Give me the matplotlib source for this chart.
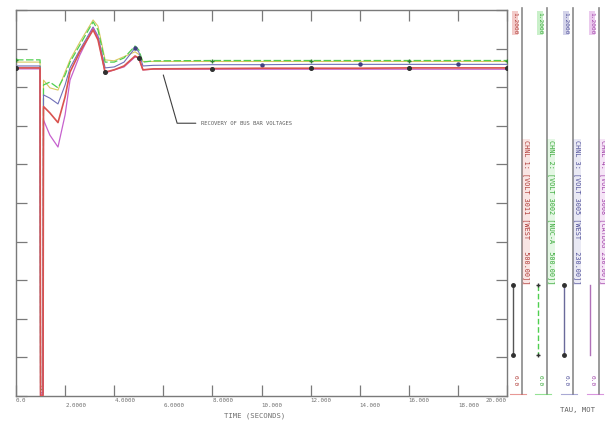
import matplotlib
matplotlib.use("Agg")
import matplotlib.pyplot as plt
from matplotlib.lines import Line2D

# ---------------- data ----------------
time_s = [0.0, 0.98, 1.0, 1.1, 1.12, 1.38, 1.71, 2.0, 2.2, 2.6, 3.14, 3.34, 3.63,
          4.0, 4.4, 4.85, 5.0, 5.17, 5.6, 8.0, 10.0, 12.0, 14.0, 16.0, 18.0, 20.0]

volt_ch1 = [1.020, 1.020, 0.000, 0.000, 0.900, 0.880, 0.850, 0.930, 1.007, 1.070, 1.138,
            1.107, 1.007, 1.014, 1.026, 1.057, 1.051, 1.014, 1.017, 1.018, 1.019, 1.019,
            1.019, 1.020, 1.020, 1.020]
volt_ch2 = [1.045, 1.045, 0.020, 0.020, 0.967, 0.976, 0.958, 0.998, 1.038, 1.091, 1.163,
            1.138, 1.038, 1.038, 1.051, 1.088, 1.076, 1.038, 1.042, 1.043, 1.043, 1.043,
            1.043, 1.043, 1.043, 1.043]
volt_ch3 = [1.026, 1.026, 0.010, 0.010, 0.936, 0.926, 0.908, 0.967, 1.020, 1.076, 1.147,
            1.119, 1.020, 1.023, 1.038, 1.082, 1.070, 1.026, 1.028, 1.030, 1.030, 1.031,
            1.031, 1.031, 1.031, 1.031]
volt_ch4 = [1.017, 1.017, 0.005, 0.005, 0.858, 0.811, 0.774, 0.874, 0.982, 1.060, 1.144,
            1.113, 1.004, 1.014, 1.023, 1.054, 1.051, 1.014, 1.016, 1.016, 1.016, 1.016,
            1.016, 1.016, 1.016, 1.016]
volt_ch5 = [1.038, 1.038, 0.030, 0.030, 0.982, 0.958, 0.951, 1.007, 1.045, 1.100, 1.169,
            1.150, 1.045, 1.042, 1.055, 1.070, 1.062, 1.040, 1.040, 1.040, 1.040, 1.040,
            1.040, 1.040, 1.040, 1.040]

channel_names = ["CHNL 1: [VOLT 3011 [WEST   500.00]]",
                 "CHNL 2: [VOLT 3002 [NUC-A  500.00]]",
                 "CHNL 3: [VOLT 3005 [WEST   230.00]]",
                 "CHNL 4: [VOLT 3008 [CATDOG 230.00]]"]
scale_max = ["1.2000", "1.2000", "1.2000", "1.2000"]
scale_min = ["0.0", "0.0", "0.0", "0.0"]

x_ticks = [0, 2, 4, 6, 8, 10, 12, 14, 16, 18, 20]
x_tick_labels = ["0.0", "2.0000", "4.0000", "6.0000", "8.0000", "10.000",
                 "12.000", "14.000", "16.000", "18.000", "20.000"]
y_min, y_max = 0.0, 1.2

annotation_text = "RECOVERY OF BUS BAR VOLTAGES"
x_title = "TIME (SECONDS)"
corner_text = "TAU, MOT"

# ---------------- styling ----------------
W, H = 605, 422
fig = plt.figure(figsize=(W / 100, H / 100), dpi=100)
fig.patch.set_facecolor("white")
mono = "DejaVu Sans Mono"
axis_gray = "#7a7a7a"

ax_l, ax_r, ax_t, ax_b = 16, 507, 10, 396
ax = fig.add_axes([ax_l / W, 1 - ax_b / H, (ax_r - ax_l) / W, (ax_b - ax_t) / H])
ax.set_xlim(0, 20)
ax.set_ylim(y_min, y_max)
for s in ax.spines.values():
    s.set_color(axis_gray)
    s.set_linewidth(1.0)

col_colors = ["#d9534f", "#4fcf4f", "#7070b8", "#c050c8"]
extra_color = "#d8c860"

ax.plot(time_s, volt_ch5, color=extra_color, lw=0.8, zorder=2)
ax.plot(time_s, volt_ch2, color=col_colors[1], lw=0.9, ls=(0, (6, 2)), zorder=3,
        marker="+", markersize=3, markevery=[0, 19, 21, 23, 25], mec="#308030")
ax.plot(time_s, volt_ch3, color=col_colors[2], lw=0.8, zorder=3,
        marker="o", markersize=2.2, markevery=[15, 20, 22, 24], mec="#404080", mfc="#404080")
ax.plot(time_s, volt_ch4, color=col_colors[3], lw=0.9, zorder=4, alpha=0.9)
ax.plot(time_s, volt_ch1, color=col_colors[0], lw=1.2, zorder=5,
        marker="o", markersize=2.6, markevery=[0, 12, 16, 19, 21, 23, 25], mec="#303030",
        mfc="#303030")

ax.set_xticks(x_ticks)
lbls = [lab if i % 2 == 0 else "\n" + lab for i, lab in enumerate(x_tick_labels)]
ax.set_xticklabels(lbls, fontsize=4.2, family=mono, color="#707070", linespacing=1.1)
for i, t in enumerate(ax.get_xticklabels()):
    t.set_horizontalalignment("right" if i == len(x_tick_labels) - 1 else "left")
ax.set_yticks([y_min + k * (y_max - y_min) / 10 for k in range(11)])
ax.set_yticklabels([])
ax.tick_params(axis="both", direction="in", length=8, width=0.9, color=axis_gray,
               top=True, right=True, pad=1.5)

ax.annotate(annotation_text, xy=(6.0, 0.998), xytext=(7.55, 0.848),
            fontsize=4.0, family=mono, color="#606060", ha="left", va="center",
            arrowprops=dict(arrowstyle="-", color="#404040", lw=0.8, relpos=(0, 0.5),
                            shrinkA=2, shrinkB=0,
                            connectionstyle="angle,angleA=0,angleB=106,rad=0"))

fig.text(255 / W, 1 - 416 / H, x_title, ha="center", va="center", fontsize=5.2,
         family=mono, color="#707070")
fig.text(578 / W, 1 - 410 / H, corner_text, ha="center", va="center", fontsize=5.2,
         family=mono, color="#606060")

# ---------------- right-hand channel strips ----------------
col_x = [522, 547, 573, 599]
markers = ["o", "+", "o", ""]
dashes = ["-", (0, (4, 2)), "-", "-"]
sample_colors = ["#555555", "#4fcf4f", "#6a6a9a", "#b070b8"]
text_colors = ["#b03a36", "#38a838", "#50509a", "#a040a8"]
for cx, c, tc, name, smax, smin, mk, ds, sc in zip(col_x, col_colors, text_colors,
                                                   channel_names, scale_max, scale_min,
                                                   markers, dashes, sample_colors):
    fig.add_artist(Line2D([cx / W, cx / W], [1 - 8 / H, 1 - 394 / H], color="#8a8a8a",
                          lw=1.2, transform=fig.transFigure))
    fig.add_artist(Line2D([(cx - 12) / W, (cx + 4) / W], [1 - 394 / H, 1 - 394 / H],
                          color=c, lw=0.8, alpha=0.6, transform=fig.transFigure))
    fig.text((cx - 7) / W, 1 - 12 / H, smax, rotation=-90, ha="center", va="top",
             fontsize=4.4, family=mono, color=tc,
             bbox=dict(boxstyle="square,pad=0.15", fc=c, ec="none", alpha=0.3))
    fig.text((cx + 4) / W, 1 - 140 / H, name, rotation=-90, ha="center", va="top",
             fontsize=4.9, family=mono, color=tc,
             bbox=dict(boxstyle="square,pad=0.1", fc=c, ec="none", alpha=0.15))
    fig.text((cx - 7) / W, 1 - 375 / H, smin, rotation=-90, ha="center", va="top",
             fontsize=4.4, family=mono, color=tc)
    fig.add_artist(Line2D([(cx - 9) / W, (cx - 9) / W], [1 - 285 / H, 1 - 355 / H],
                          color=sc, lw=1.0, ls=ds, marker=mk, markersize=2.5,
                          mec="#303030", mfc="#303030", transform=fig.transFigure))

fig.savefig("out.png", dpi=100, facecolor="white")
